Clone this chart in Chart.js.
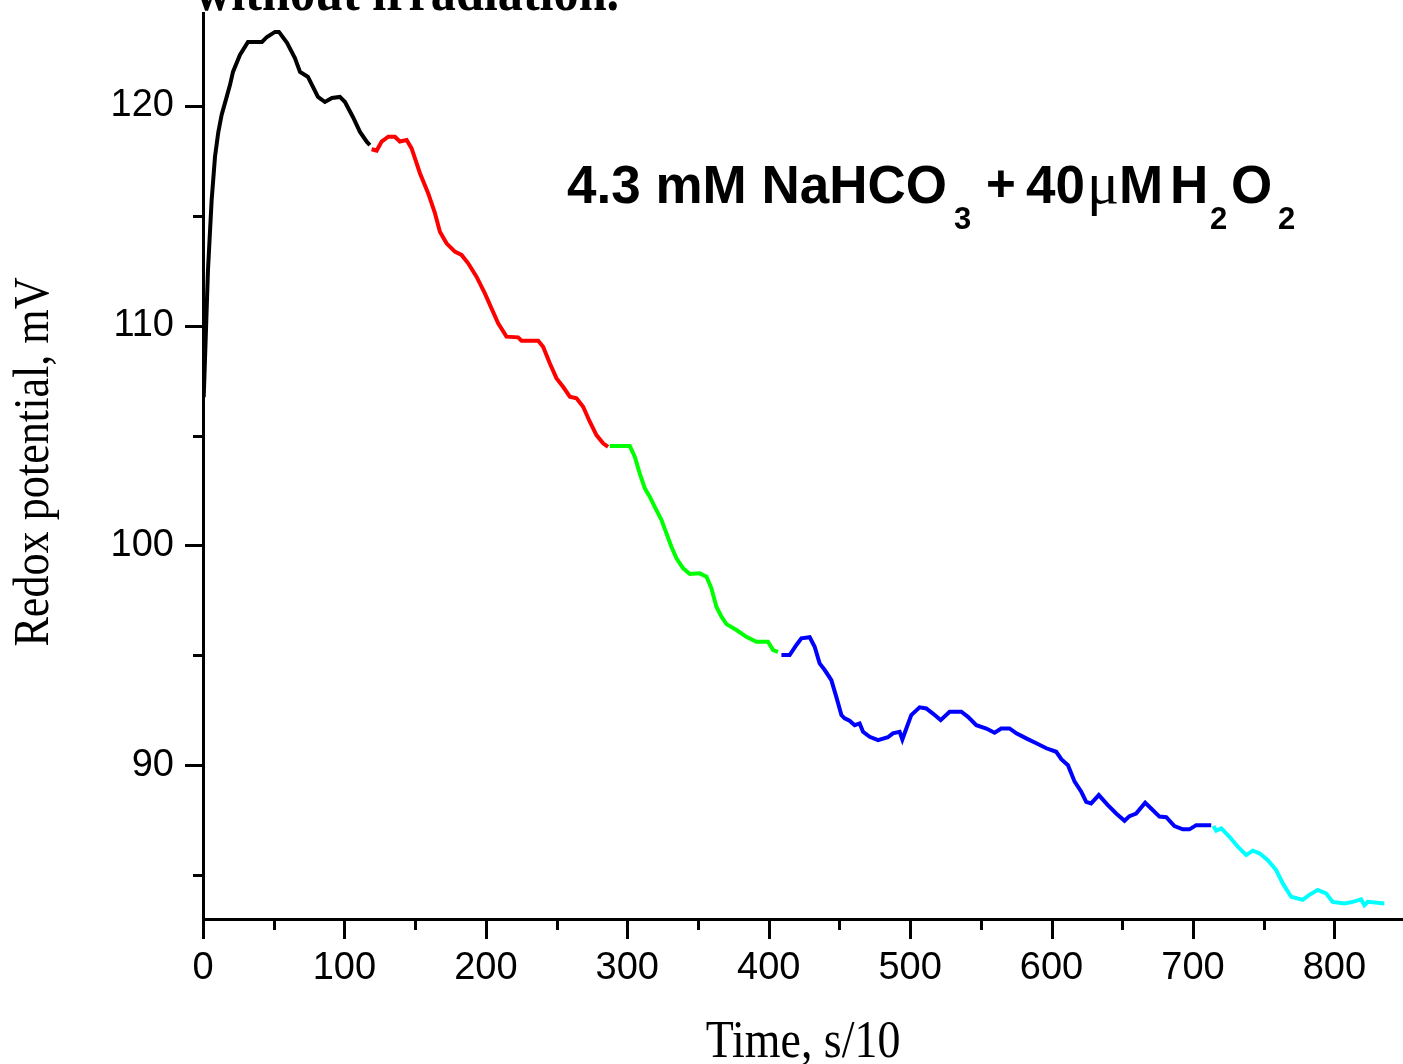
<!DOCTYPE html>
<html lang="en">
<head>
<meta charset="UTF-8">
<title>Redox potential vs time</title>
<script src="https://cdn.jsdelivr.net/npm/chart.js"></script>
<style>
    body {
        margin: 0;
        background: #fff;
    }
    #wrap {
        width: 1403px;
        height: 1064px;
    }
</style>
</head>
<body>
<div id="wrap"><canvas id="redox" width="1403" height="1064"></canvas></div>
<script>
// time in s/10, potential in mV, one pair of arrays per coloured stage
const blackTime = [0.5, 2.1, 3.5, 6.1, 8.5, 10.8, 13.2, 16.7, 19.1, 21.2, 26.1, 31.8, 41.7, 45.2, 50.9, 53.7, 59.4, 65.0, 68.6, 72.1, 74.2, 81.3, 86.2, 91.2, 96.8, 100.4, 106.0, 111.0, 115.9, 118.0];
const blackMv   = [106.75, 109.8, 112.5, 115.7, 117.7, 118.8, 119.6, 120.4, 120.96, 121.55, 122.32, 122.91, 122.91, 123.14, 123.37, 123.37, 122.87, 122.18, 121.55, 121.41, 121.32, 120.41, 120.18, 120.36, 120.41, 120.18, 119.5, 118.82, 118.36, 118.22];

const redTime = [119.2, 122.8, 126.3, 131.0, 135.7, 139.2, 144.0, 147.5, 153.4, 159.2, 164.0, 167.5, 172.2, 178.1, 182.8, 187.5, 193.4, 199.3, 204.0, 208.7, 214.6, 222.8, 225.2, 237.0, 240.5, 245.2, 250.0, 254.6, 259.4, 264.1, 268.8, 273.5, 278.2, 282.9, 286.4];
const redMv   = [118.03, 117.97, 118.38, 118.6, 118.6, 118.38, 118.45, 118.07, 116.94, 116.03, 115.12, 114.28, 113.75, 113.37, 113.22, 112.84, 112.23, 111.47, 110.79, 110.11, 109.5, 109.47, 109.32, 109.32, 109.04, 108.29, 107.6, 107.22, 106.77, 106.7, 106.31, 105.63, 105.02, 104.65, 104.49];

const greenTime = [287.6, 301.8, 305.3, 308.8, 312.4, 315.9, 319.4, 324.2, 327.7, 331.2, 334.8, 339.5, 344.2, 351.2, 356.0, 359.5, 363.0, 366.6, 370.1, 377.2, 384.2, 391.3, 399.5, 403.1, 406.6];
const greenMv   = [104.52, 104.52, 104.04, 103.28, 102.6, 102.22, 101.76, 101.16, 100.55, 99.94, 99.41, 98.96, 98.7, 98.73, 98.58, 98.05, 97.21, 96.76, 96.42, 96.15, 95.84, 95.62, 95.62, 95.24, 95.16];

const blueTime = [409.0, 414.8, 419.6, 423.1, 429.0, 432.5, 436.0, 439.6, 444.3, 447.8, 451.4, 453.7, 457.2, 460.8, 464.3, 466.7, 471.4, 477.3, 484.3, 487.8, 492.6, 494.5, 497.3, 500.8, 506.7, 511.4, 516.1, 521.6, 527.9, 536.2, 540.9, 546.8, 553.9, 559.7, 564.4, 570.3, 575.1, 582.1, 589.2, 596.3, 603.3, 606.9, 611.6, 616.3, 621.0, 624.5, 628.0, 633.4, 639.8, 645.7, 651.6, 655.1, 659.8, 666.2, 670.4, 676.3, 681.1, 686.9, 692.8, 697.5, 702.3, 712.9];
const blueMv   = [95.01, 95.01, 95.47, 95.77, 95.82, 95.39, 94.63, 94.33, 93.87, 93.11, 92.28, 92.13, 92.02, 91.82, 91.9, 91.52, 91.29, 91.14, 91.27, 91.45, 91.52, 91.17, 91.67, 92.28, 92.63, 92.58, 92.35, 92.05, 92.43, 92.43, 92.2, 91.82, 91.67, 91.48, 91.67, 91.67, 91.45, 91.22, 91.0, 90.77, 90.61, 90.27, 90.0, 89.25, 88.79, 88.33, 88.26, 88.64, 88.18, 87.8, 87.47, 87.68, 87.8, 88.29, 88.03, 87.66, 87.63, 87.23, 87.08, 87.08, 87.27, 87.27];

const cyanTime = [714.5, 716.4, 720.0, 725.8, 731.7, 737.6, 742.3, 747.0, 752.9, 758.8, 763.5, 769.4, 777.6, 782.3, 788.2, 794.1, 798.8, 807.1, 813.0, 818.9, 821.2, 823.6, 835.3];
const cyanMv   = [87.23, 87.02, 87.12, 86.74, 86.29, 85.91, 86.11, 85.99, 85.68, 85.23, 84.62, 84.01, 83.87, 84.1, 84.32, 84.17, 83.78, 83.71, 83.78, 83.89, 83.63, 83.78, 83.71];

// tick positions; only the labelled ones get long marks
const xTicks = [0, 50, 100, 150, 200, 250, 300, 350, 400, 450, 500, 550, 600, 650, 700, 750, 800];
const xLabelled = [0, 100, 200, 300, 400, 500, 600, 700, 800];
const yTicks = [85, 90, 95, 100, 105, 110, 115, 120];
const yLabelled = [90, 100, 110, 120];

const xRange = [0, 848.5];
const yRange = [83.0, 124.23];

const SANS = "'Liberation Sans', Arial, sans-serif";
const SERIF = "'Liberation Serif', 'Times New Roman', serif";

function stage(times, values, color) {
    return {
        data: times.map((t, i) => ({ x: t, y: values[i] })),
        borderColor: color,
        borderWidth: 4,
        pointRadius: 0,
        tension: 0,
        fill: false
    };
}

// major/minor tick marks pointing outward, drawn from the scales' own ticks
const tickMarks = {
    id: 'tickMarks',
    afterDraw(chart) {
        const ctx = chart.ctx;
        const xs = chart.scales.x;
        const ys = chart.scales.y;
        ctx.save();
        ctx.strokeStyle = '#000';
        ctx.lineWidth = 3;
        ctx.beginPath();
        ys.ticks.forEach(t => {
            const py = Math.round(ys.getPixelForValue(t.value)) + 0.5;
            const len = yLabelled.includes(t.value) ? 18 : 10;
            ctx.moveTo(ys.right - len, py);
            ctx.lineTo(ys.right + 1, py);
        });
        xs.ticks.forEach(t => {
            const px = Math.round(xs.getPixelForValue(t.value)) + 0.5;
            const len = xLabelled.includes(t.value) ? 20 : 11;
            ctx.moveTo(px, xs.top - 1);
            ctx.lineTo(px, xs.top + len);
        });
        ctx.stroke();
        ctx.restore();
    }
};

// serif captions are a bit condensed, so squeeze them horizontally
function squeezed(ctx, text, x, y, font, sx, rot) {
    ctx.save();
    ctx.translate(x, y);
    if (rot) ctx.rotate(rot);
    ctx.scale(sx, 1);
    ctx.font = font;
    ctx.textAlign = 'center';
    ctx.textBaseline = 'alphabetic';
    ctx.fillText(text, 0, 0);
    ctx.restore();
}

const captions = {
    id: 'captions',
    afterDraw(chart) {
        const ctx = chart.ctx;
        const xs = chart.scales.x;
        ctx.save();
        ctx.fillStyle = '#000';

        // heading, cut by the top edge
        ctx.save();
        ctx.translate(195, 10);
        ctx.scale(0.866, 1);
        ctx.font = 'bold 58px ' + SERIF;
        ctx.textBaseline = 'alphabetic';
        ctx.fillText('without irradiation.', 0, 0);
        ctx.restore();

        squeezed(ctx, 'Time, s/10', (xs.left + xs.right) / 2, 1057, '53px ' + SERIF, 0.866, 0);
        squeezed(ctx, 'Redox potential, mV', 48, 462, '51px ' + SERIF, 0.866, -Math.PI / 2);

        // 4.3 mM NaHCO3 + 40μM H2O2 with subscripts
        const big = 'bold 53px ' + SANS;
        const sub = 'bold 31px ' + SANS;
        const parts = [
            ['4.3 mM NaHCO', 567, 203, big],
            ['3', 954, 229, sub],
            ['+', 986, 201, 'bold 51px ' + SANS],
            ['40', 1026, 203, big],
            ['\u03bc', 1087, 203, '60px ' + SERIF],
            ['M', 1119, 203, big],
            ['H', 1170, 203, big],
            ['2', 1210, 229, sub],
            ['O', 1231, 203, big],
            ['2', 1278, 229, sub]
        ];
        ctx.textAlign = 'left';
        ctx.textBaseline = 'alphabetic';
        parts.forEach(([txt, x, y, f]) => {
            ctx.font = f;
            ctx.fillText(txt, x, y);
        });
        ctx.restore();
    }
};

const tickFont = { family: SANS, size: 38 };

new Chart(document.getElementById('redox').getContext('2d'), {
    type: 'line',
    data: {
        datasets: [
            stage(blackTime, blackMv, '#000000'),
            stage(redTime, redMv, '#ff0000'),
            stage(greenTime, greenMv, '#00ff00'),
            stage(blueTime, blueMv, '#0000ff'),
            stage(cyanTime, cyanMv, '#00ffff')
        ]
    },
    options: {
        responsive: false,
        animation: false,
        layout: { padding: { top: 13, left: 0, right: 0, bottom: 0 } },
        plugins: {
            legend: { display: false },
            tooltip: { enabled: false }
        },
        scales: {
            x: {
                type: 'linear',
                min: xRange[0],
                max: xRange[1],
                grid: { display: false, drawTicks: false },
                border: { display: true, color: '#000', width: 3 },
                afterBuildTicks(s) {
                    s.ticks = xTicks.map(v => ({ value: v }));
                },
                ticks: {
                    autoSkip: false,
                    maxRotation: 0,
                    padding: 27,
                    color: '#000',
                    font: tickFont,
                    callback: v => (xLabelled.includes(v) ? String(v) : '')
                },
                afterFit(s) {
                    s.height = 145;
                    s.paddingLeft = 0;
                    s.paddingRight = 0;
                }
            },
            y: {
                min: yRange[0],
                max: yRange[1],
                grid: { display: false, drawTicks: false },
                border: { display: true, color: '#000', width: 3 },
                afterBuildTicks(s) {
                    s.ticks = yTicks.map(v => ({ value: v }));
                },
                ticks: {
                    autoSkip: false,
                    padding: 29,
                    color: '#000',
                    font: tickFont,
                    callback: v => (yLabelled.includes(v) ? String(v) : '')
                },
                afterFit(s) {
                    s.width = 203;
                    s.paddingTop = 0;
                    s.paddingBottom = 0;
                }
            }
        }
    },
    plugins: [tickMarks, captions]
});
</script>
</body>
</html>
